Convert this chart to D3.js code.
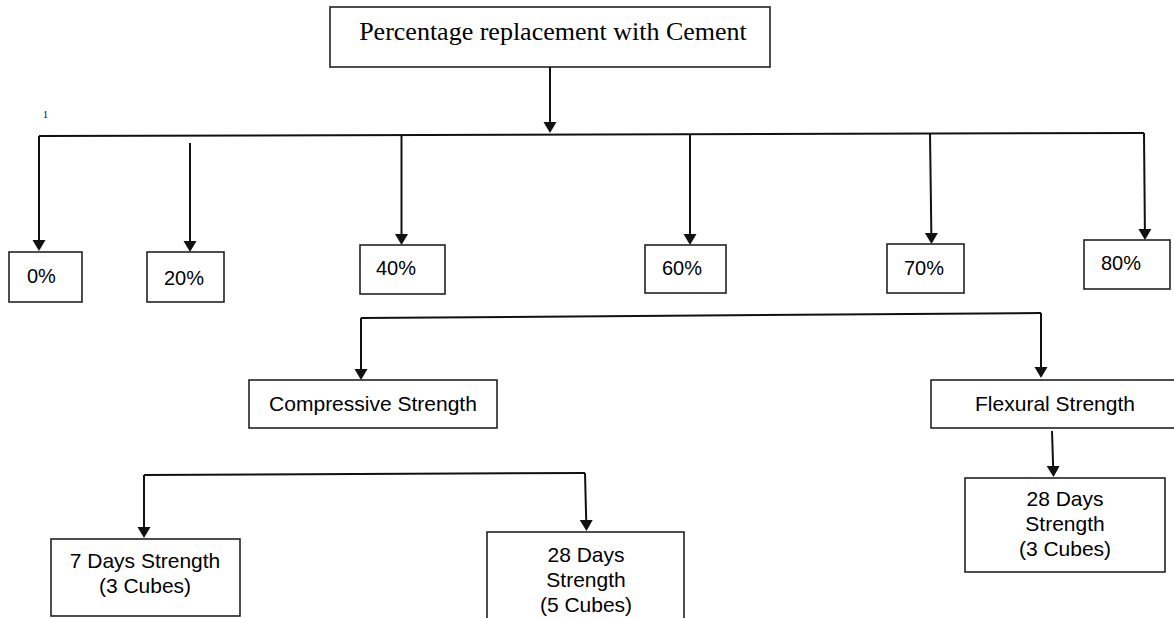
<!DOCTYPE html>
<html>
<head>
<meta charset="utf-8">
<script src="https://cdn.jsdelivr.net/npm/d3@7"></script>
<style>
  html, body { margin: 0; padding: 0; background: #fff; }
  svg { display: block; }
</style>
</head>
<body>
<svg id="chart" width="1174" height="618"></svg>
<script>
// ---- data (labels only) ----
const rootLabel = "Percentage replacement with Cement";
const percentLabels = ["0%", "20%", "40%", "60%", "70%", "80%"];
const testLabels = ["Compressive Strength", "Flexural Strength"];
const compressiveAges = [["7 Days Strength", "(3 Cubes)"], ["28 Days", "Strength", "(5 Cubes)"]];
const flexuralAges = [["28 Days", "Strength", "(3 Cubes)"]];
const noteLabel = "1";

// ---- layout (positions kept separate from data) ----
const percentLayout = [
  {bx: 9,    by: 252, bw: 73, bh: 50, ax0: 39,    ay0: 136, ax1: 39,    tip: 251, tx: 27,   ty: 283},
  {bx: 147,  by: 252, bw: 77, bh: 50, ax0: 190,   ay0: 143, ax1: 190,   tip: 252, tx: 164,  ty: 285},
  {bx: 360,  by: 245, bw: 85, bh: 49, ax0: 401.5, ay0: 135, ax1: 401.5, tip: 245, tx: 376,  ty: 275},
  {bx: 645,  by: 245, bw: 81, bh: 48, ax0: 690,   ay0: 134, ax1: 690,   tip: 245, tx: 662,  ty: 275},
  {bx: 887,  by: 244, bw: 77, bh: 49, ax0: 930,   ay0: 133, ax1: 931.5, tip: 244, tx: 904,  ty: 275},
  {bx: 1084, by: 240, bw: 86, bh: 49, ax0: 1144,  ay0: 133, ax1: 1145,  tip: 240, tx: 1101, ty: 270}
];
const testLayout = [
  {bx: 249, by: 380, bw: 248, bh: 48, ax0: 361,  ay0: 318, ax1: 361,  tip: 380, tx: 373,  ty: 411},
  {bx: 931, by: 380, bw: 252, bh: 48, ax0: 1041, ay0: 313, ax1: 1041, tip: 378, tx: 1055, ty: 411}
];
const compLayout = [
  {bx: 51,  by: 539, bw: 189, bh: 77,  ax0: 144, ay0: 475, ax1: 144,   tip: 538, tx: 145, ty: 568},
  {bx: 487, by: 532, bw: 197, bh: 110, ax0: 585, ay0: 473, ax1: 586.5, tip: 531, tx: 586, ty: 562}
];
const flexLayout = [
  {bx: 965, by: 478, bw: 200, bh: 94, ax0: 1052, ay0: 431, ax1: 1053.5, tip: 477, tx: 1065, ty: 506}
];

const svg = d3.select("#chart");
const ink = "#111";
const sans = "'Liberation Sans', Arial, Helvetica, sans-serif";
const serif = "'Liberation Serif', 'Times New Roman', serif";
const lineH = 25;

function arrow(g, x0, y0, x1, tip) {
  const headL = 11, headW = 6.5;
  const t = (tip - headL - y0) / (tip - y0);
  const xb = x0 + (x1 - x0) * t;
  g.append("line").attr("x1", x0).attr("y1", y0).attr("x2", xb).attr("y2", tip - headL + 1)
    .attr("stroke", ink).attr("stroke-width", 2);
  g.append("path")
    .attr("d", d3.line()([[xb - headW, tip - headL], [xb + headW, tip - headL], [x1, tip]]) + "Z")
    .attr("fill", ink);
}
function box(g, L) {
  g.append("rect").attr("x", L.bx).attr("y", L.by).attr("width", L.bw).attr("height", L.bh)
    .attr("fill", "#fff").attr("stroke", "#222").attr("stroke-width", 1.6);
}
function connector(points) {
  svg.append("path").attr("d", d3.line()(points)).attr("fill", "none")
    .attr("stroke", ink).attr("stroke-width", 2);
}

// root box
svg.append("rect").attr("x", 330).attr("y", 7).attr("width", 440).attr("height", 60)
  .attr("fill", "#fff").attr("stroke", "#222").attr("stroke-width", 1.6);
svg.append("text").attr("x", 553).attr("y", 40).attr("text-anchor", "middle")
  .attr("font-family", serif).attr("font-size", 26).attr("fill", "#000").text(rootLabel);
svg.append("text").attr("x", 43).attr("y", 118)
  .attr("font-family", serif).attr("font-size", 10).attr("fill", "#000").text(noteLabel);

arrow(svg, 550, 67, 550, 133);
connector([[39, 136], [1144, 133]]);

// percentage level
percentLabels.forEach((lab, i) => {
  const L = percentLayout[i];
  const g = svg.append("g");
  arrow(g, L.ax0, L.ay0, L.ax1, L.tip);
  box(g, L);
  g.append("text").attr("x", L.tx).attr("y", L.ty).attr("font-family", sans)
    .attr("font-size", 20).attr("fill", "#000").text(lab);
});

// test level
connector([[361, 318], [1041, 313]]);
testLabels.forEach((lab, i) => {
  const L = testLayout[i];
  const g = svg.append("g");
  arrow(g, L.ax0, L.ay0, L.ax1, L.tip);
  box(g, L);
  g.append("text").attr("x", L.tx).attr("y", L.ty).attr("text-anchor", "middle")
    .attr("font-family", sans).attr("font-size", 21).attr("fill", "#000").text(lab);
});

// compressive ages
connector([[144, 475], [585, 473]]);
function multiBox(lines, L) {
  const g = svg.append("g");
  arrow(g, L.ax0, L.ay0, L.ax1, L.tip);
  box(g, L);
  const t = g.append("text").attr("text-anchor", "middle").attr("font-family", sans)
    .attr("font-size", 21).attr("fill", "#000");
  lines.forEach((ln, j) => {
    t.append("tspan").attr("x", L.tx).attr("y", L.ty + j * lineH).text(ln);
  });
}
compressiveAges.forEach((lines, i) => multiBox(lines, compLayout[i]));
flexuralAges.forEach((lines, i) => multiBox(lines, flexLayout[i]));
</script>
</body>
</html>
